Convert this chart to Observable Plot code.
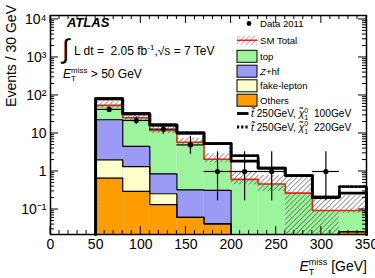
<!DOCTYPE html>
<html><head><meta charset="utf-8">
<script src="https://cdn.jsdelivr.net/npm/d3@7"></script>
<script src="https://cdn.jsdelivr.net/npm/@observablehq/plot@0.6"></script>
<style>body{margin:0;background:#fff} svg{display:block}</style>
</head><body><div id="chart"></div>
<script>
// ---- data ----
const binLow = [50, 80, 110, 140, 170, 200, 230, 260, 290, 320];
const binWidth = 30;
// cumulative stack tops (SM total = top of "top" stack)
const smTotal     = [55, 26, 12, 5.9, 2.1, 0.62, 0.47, 0.27, 0.094, 0.094];
const stackZhf    = [23, 4.6, 0.87, 0.33, 0.32, 0, 0, 0, 0, 0.026];
const stackFake   = [2.03, 1.35, 0.26, 0.062, 0.042, 0, 0, 0, 0, 0.026];
const stackOthers = [0.67, 0.30, 0.135, 0.062, 0.042, 0, 0, 0, 0, 0.026];
// SM uncertainty band
const uncLow  = [46, 22, 10, 5, 1.7, 0.45, 0.30, 0.022, 0.022, 0.08];
const uncHigh = [68, 31, 14.5, 7.5, 2.9, 0.96, 0.78, 0.71, 0.21, 0.23];
// signal (SM + signal)
const sig100 = [82, 33, 16.7, 10.3, 5.4, 1.87, 1.22, 0.78, 0.21, 0.27];
const sig220 = [82, 33, 16.7, 10.3, 5.4, 2.6, 1.22, 0.78, 0.21, 0.40];
// data
const dataN    = [43, 22, 13, 5, 1, 1, 1, 0, 1, 0];
const dataUp   = [50, 27.7, 17.7, 8.4, 3.3, 3.3, 3.3, 0, 3.3, 0];
const dataDown = [36.5, 17.3, 9.4, 2.8, 0.17, 0.17, 0.17, 0, 0.17, 0];
// axes
const xTicks = [0, 50, 100, 150, 200, 250, 300, 350];
const yTicks = [0.1, 1, 10, 100, 1000, 10000];
const yTickLabels = ["10\u207B\u00B9", "1", "10", "10\u00B2", "10\u00B3", "10\u2074"];
const yMin = 0.022, yMax = 12700, xMax = 350;

const FONT = "'Liberation Sans', Arial, Helvetica, sans-serif";
const C = {top: "#9cf49c", zhf: "#9b9bf6", fake: "#ffffcc", others: "#ff9c00", red: "#e8231e"};

const bins = binLow.map((lo, i) => ({lo, hi: lo + binWidth, mid: lo + binWidth / 2, i}));
const rows = vals => bins.filter(b => vals[b.i] > 0).map(b => ({...b, v: vals[b.i], base: yMin}));
function steps(vals) {
  const pts = [{x: binLow[0], y: yMin}];
  vals.forEach((v, i) => { const y = Math.max(v, yMin); pts.push({x: binLow[i], y}, {x: binLow[i] + binWidth, y}); });
  pts.push({x: binLow[binLow.length - 1] + binWidth, y: yMin});
  return pts;
}
const unc = bins.map(b => ({...b, lo_v: uncLow[b.i], hi_v: uncHigh[b.i]}));
const pts = bins.filter(b => dataN[b.i] > 0).map(b => ({...b, n: dataN[b.i], up: dataUp[b.i], dn: dataDown[b.i]}));

const plot = Plot.plot({
  width: 375, height: 278,
  marginLeft: 50, marginRight: 9, marginTop: 15, marginBottom: 44,
  style: {fontFamily: FONT, fontSize: "14px", background: "white", color: "black"},
  x: {domain: [0, xMax], label: null},
  y: {type: "log", domain: [yMin, yMax], label: null},
  marks: [
    Plot.rect(rows(smTotal), {x1: "lo", x2: "hi", y1: "base", y2: "v", fill: C.top}),
    Plot.rect(rows(stackZhf), {x1: "lo", x2: "hi", y1: "base", y2: "v", fill: C.zhf}),
    Plot.rect(rows(stackFake), {x1: "lo", x2: "hi", y1: "base", y2: "v", fill: C.fake}),
    Plot.rect(rows(stackOthers), {x1: "lo", x2: "hi", y1: "base", y2: "v", fill: C.others}),
    Plot.rect(unc, {x1: "lo", x2: "hi", y1: "lo_v", y2: "hi_v", fill: "url(#hatch)"}),
    Plot.line(steps(stackOthers), {x: "x", y: "y", stroke: "black", strokeWidth: 1.2}),
    Plot.line(steps(stackFake), {x: "x", y: "y", stroke: "black", strokeWidth: 1.2}),
    Plot.line(steps(stackZhf), {x: "x", y: "y", stroke: "black", strokeWidth: 1.2}),
    Plot.line(steps(smTotal), {x: "x", y: "y", stroke: C.red, strokeWidth: 1.6}),
    Plot.line(steps(sig220), {x: "x", y: "y", stroke: "black", strokeWidth: 2.8, strokeDasharray: "2.2,2"}),
    Plot.line(steps(sig100), {x: "x", y: "y", stroke: "black", strokeWidth: 2.8}),
    Plot.ruleX(pts, {x: "mid", y1: "dn", y2: "up", stroke: "black", strokeWidth: 1.2}),
    Plot.ruleY(pts, {y: "n", x1: "lo", x2: "hi", stroke: "black", strokeWidth: 1.2}),
    Plot.dot(pts, {x: "mid", y: "n", r: 2.6, fill: "black", stroke: "none"}),
    Plot.frame({stroke: "black", strokeWidth: 1.5}),
    Plot.axisX({ticks: xTicks, tickSize: 0, tickPadding: 5, tickFormat: d => String(d)}),
    Plot.axisY({ticks: yTicks, tickSize: 0, tickPadding: 4, tickFormat: d => yTickLabels[yTicks.indexOf(d)]})
  ]
});
document.getElementById("chart").append(plot);

const svg = d3.select(plot);
const defs = svg.insert("defs", ":first-child");
function hatch(id, color) {
  defs.append("pattern").attr("id", id).attr("patternUnits", "userSpaceOnUse")
    .attr("width", 3.6).attr("height", 3.6).attr("patternTransform", "rotate(45)")
    .append("line").attr("x1", 0).attr("y1", 0).attr("x2", 0).attr("y2", 3.6)
    .attr("stroke", color).attr("stroke-width", 0.9);
}
hatch("hatch", "#222");
hatch("hatchRed", C.red);

const sx = plot.scale("x"), sy = plot.scale("y");
const X = v => sx.apply(v), Y = v => sy.apply(v);
const L = X(0), R = X(xMax), T = Y(yMax), B = Y(yMin);

// inward ROOT-style ticks
const tg = svg.append("g").attr("stroke", "black").attr("stroke-width", 1);
for (let v = 0; v <= xMax; v += 10) {
  const len = v % 50 === 0 ? 8 : 4, x = X(v);
  tg.append("line").attr("x1", x).attr("x2", x).attr("y1", B).attr("y2", B - len);
  tg.append("line").attr("x1", x).attr("x2", x).attr("y1", T).attr("y2", T + len);
}
for (let e = -2; e <= 4; e++) for (let k = 1; k <= 9; k++) {
  const v = k * Math.pow(10, e);
  if (v < yMin || v > yMax) continue;
  const len = k === 1 ? 8 : 4, y = Y(v);
  tg.append("line").attr("x1", L).attr("x2", L + len).attr("y1", y).attr("y2", y);
  tg.append("line").attr("x1", R).attr("x2", R - len).attr("y1", y).attr("y2", y);
}

// rich text helper
function rich(x, y, parts, anchor = "start") {
  const g = svg.append("g").attr("font-family", FONT).attr("fill", "black").attr("text-anchor", "start");
  let cursor = 0; const items = [];
  parts.forEach(p => {
    const t = g.append("text").attr("y", y + (p.dy || 0)).attr("font-size", p.size)
      .attr("font-style", p.italic ? "italic" : null).attr("font-weight", p.bold ? "bold" : null)
      .attr("xml:space", "preserve").style("white-space", "pre").text(p.t);
    const w = t.node().getComputedTextLength();
    let start;
    if (p.stack && items.length) { start = items[items.length - 1].start; cursor = Math.max(cursor, start + w); }
    else { start = cursor; cursor += w; }
    items.push({t, start});
  });
  const shift = anchor === "end" ? x - cursor : x;
  items.forEach(({t, start}) => t.attr("x", shift + start));
}

// axis titles
svg.append("text").attr("transform", "rotate(-90)").attr("x", -5).attr("y", 16)
  .attr("text-anchor", "end").attr("font-family", FONT).attr("font-size", 14).text("Events / 30 GeV");
rich(367, 271, [{t: "E", size: 14, italic: true}, {t: "T", size: 9, dy: 3.5}, {t: "miss", size: 9, dy: -6.5, stack: true}, {t: " [GeV]", size: 14}], "end");

// annotations
rich(67, 27, [{t: "ATLAS", size: 13, bold: true, italic: true}]);
svg.append("text").attr("x", 62).attr("y", 58).attr("text-anchor", "start").attr("font-family", FONT).attr("font-size", 27).text("\u222B");
rich(74, 55, [{t: "L dt =  2.05 fb", size: 12}, {t: "-1", size: 8, dy: -5}, {t: ",\u221As = 7 TeV", size: 12}]);
rich(63, 78, [{t: "E", size: 12, italic: true}, {t: "T", size: 8, dy: 3}, {t: "miss", size: 8, dy: -5.5, stack: true}, {t: " > 50 GeV", size: 12}]);

// legend
const lg = svg.append("g");
const rowY = [23.5, 40.3, 56.3, 71.2, 85.8, 100.2, 113.5, 127];
const fs = 9.6;
lg.append("circle").attr("cx", 249).attr("cy", rowY[0]).attr("r", 2.4).attr("fill", "black");
rich(260, rowY[0] + 3.3, [{t: "Data 2011", size: fs}]);
lg.append("rect").attr("x", 237).attr("y", rowY[1] - 4.5).attr("width", 20).attr("height", 9).attr("fill", "url(#hatchRed)");
lg.append("line").attr("x1", 237).attr("x2", 257).attr("y1", rowY[1]).attr("y2", rowY[1]).attr("stroke", C.red).attr("stroke-width", 1.5);
rich(260, rowY[1] + 3.3, [{t: "SM Total", size: fs}]);
const boxes = [[C.top, [{t: "top", size: fs}]], [C.zhf, [{t: "Z", size: fs, italic: true}, {t: "+hf", size: fs}]],
  [C.fake, [{t: "fake-lepton", size: fs}]], [C.others, [{t: "Others", size: fs}]]];
boxes.forEach(([col, parts], k) => {
  const cy = rowY[2 + k];
  lg.append("rect").attr("x", 237).attr("y", cy - 6).attr("width", 20).attr("height", 12)
    .attr("fill", col).attr("stroke", "black").attr("stroke-width", 1);
  rich(260, cy + 3.3, parts);
});
lg.append("line").attr("x1", 237).attr("x2", 248.5).attr("y1", rowY[6]).attr("y2", rowY[6]).attr("stroke", "black").attr("stroke-width", 2.8);
lg.append("line").attr("x1", 237).attr("x2", 249).attr("y1", rowY[7]).attr("y2", rowY[7]).attr("stroke", "black").attr("stroke-width", 2.8).attr("stroke-dasharray", "2.2,2");
const sfs = 10.2;
const sigText = m => [{t: "t\u0303", size: sfs, italic: true}, {t: " 250GeV, ", size: sfs}, {t: "\u03C7\u0303", size: sfs, italic: true},
  {t: "0", size: 7, dy: -4.5}, {t: "1", size: 7, dy: 3.2, stack: true}, {t: "  " + m + "GeV", size: sfs}];
rich(251, rowY[6] + 3.5, sigText(100));
rich(251, rowY[7] + 3.5, sigText(220));
</script>
</body></html>
